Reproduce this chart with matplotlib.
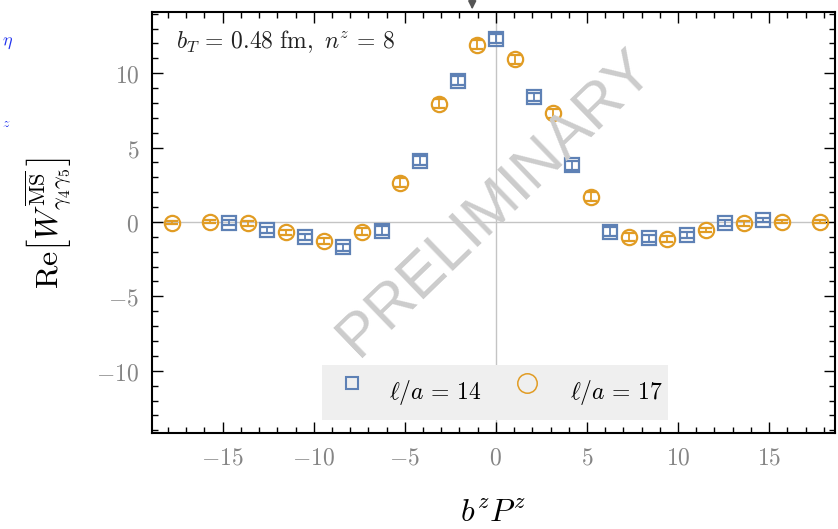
import matplotlib
matplotlib.use('Agg')
import matplotlib.pyplot as plt
from matplotlib.patches import Rectangle
from matplotlib.ticker import MultipleLocator, FuncFormatter


# l/a = 14 (blue squares)
x_14 = [-14.66, -12.57, -10.47, -8.38, -6.28, -4.19, -2.09, 0.0,
        2.09, 4.19, 6.28, 8.38, 10.47, 12.57, 14.66]
y_14 = [-0.05, -0.54, -1.0, -1.7, -0.6, 4.1, 9.5, 12.3,
        8.4, 3.8, -0.65, -1.1, -0.9, -0.1, 0.15]
err_14 = [0.15, 0.2, 0.2, 0.25, 0.3, 0.3, 0.3, 0.3,
          0.3, 0.3, 0.3, 0.25, 0.2, 0.2, 0.15]

# l/a = 17 (orange circles)
x_17 = [-17.80, -15.71, -13.61, -11.52, -9.42, -7.33, -5.24, -3.14, -1.05,
        1.05, 3.14, 5.24, 7.33, 9.42, 11.52, 13.61, 15.71, 17.80]
y_17 = [-0.05, 0.0, -0.1, -0.7, -1.3, -0.65, 2.65, 7.95, 11.9,
        10.95, 7.3, 1.7, -1.0, -1.15, -0.55, -0.1, 0.0, 0.0]
err_17 = [0.1, 0.1, 0.15, 0.15, 0.2, 0.25, 0.3, 0.3, 0.3,
          0.3, 0.3, 0.3, 0.25, 0.2, 0.15, 0.15, 0.1, 0.1]

labels = [r'$\ell/a\,=\,14$', r'$\ell/a\,=\,17$']
arrow_x = -1.3

BLUE = '#5E81B5'
ORANGE = '#E19C24'
GRAY = '#858585'

plt.rcParams['mathtext.fontset'] = 'cm'

fig = plt.figure(figsize=(8.38, 5.29), dpi=100)
ax = fig.add_axes([0.181, 0.181, 0.815, 0.796])

ax.axhline(0, color='#c4c4c4', lw=1.0, zorder=1)
ax.axvline(0, color='#c4c4c4', lw=1.0, zorder=1)

ax.errorbar(x_14, y_14, yerr=err_14, fmt='s', ms=9.5, mfc='none',
            mec=BLUE, mew=1.6, ecolor=BLUE, elinewidth=1.3, capsize=4,
            capthick=1.3, zorder=3)
ax.errorbar(x_17, y_17, yerr=err_17, fmt='o', ms=11, mfc='none',
            mec=ORANGE, mew=1.6, ecolor=ORANGE, elinewidth=1.3, capsize=4,
            capthick=1.3, zorder=3)

ax.set_xlim(-18.9, 18.6)
ax.set_ylim(-14.2, 14.1)

ax.xaxis.set_major_locator(MultipleLocator(5))
ax.xaxis.set_minor_locator(MultipleLocator(1))
ax.yaxis.set_major_locator(MultipleLocator(5))
ax.yaxis.set_minor_locator(MultipleLocator(1))
fmt = FuncFormatter(lambda v, p: '$%d$' % round(v))
ax.xaxis.set_major_formatter(fmt)
ax.yaxis.set_major_formatter(fmt)
ax.tick_params(which='both', direction='in', top=True, right=True,
               colors='black', labelcolor=GRAY, labelsize=17, width=1.0)
ax.tick_params(which='major', length=8, pad=9)
ax.tick_params(which='minor', length=4)
for s in ax.spines.values():
    s.set_linewidth(1.5)

ax.set_xlabel(r'$b^z P^z$', fontsize=23, labelpad=20)
ax.set_ylabel(r'$\mathrm{Re}\left[W^{\overline{\mathrm{MS}}}_{\gamma_4\gamma_5}\right]$',
              fontsize=23, labelpad=16)

ax.text(0.035, 0.93, r'$b_T\,=\,0.48\ \mathrm{fm},\ n^z\,=\,8$',
        transform=ax.transAxes, fontsize=17, color='#222222', va='center')

# legend box drawn by hand, Mathematica style
ax.add_patch(Rectangle((0.249, 0.031), 0.507, 0.131, transform=ax.transAxes,
                       facecolor='#efefef', edgecolor='none', zorder=4))
ax.plot([0.294], [0.119], 's', ms=8, mfc='none', mec=BLUE, mew=1.5,
        transform=ax.transAxes, zorder=5)
ax.plot([0.55], [0.119], 'o', ms=14, mfc='none', mec=ORANGE, mew=1.1,
        transform=ax.transAxes, zorder=5)
ax.text(0.348, 0.097, labels[0], transform=ax.transAxes, fontsize=17,
        va='center', zorder=5)
ax.text(0.612, 0.097, labels[1], transform=ax.transAxes, fontsize=17,
        va='center', zorder=5)

ax.text(0.504, 0.546, 'PRELIMINARY', fontsize=44, family='Liberation Sans',
        color='#cccccc', rotation=44, ha='center', va='center',
        transform=ax.transAxes, zorder=6)

ax.annotate('', xy=(arrow_x, 1.0), xycoords=('data', 'axes fraction'),
            xytext=(arrow_x, 1.035), textcoords=('data', 'axes fraction'),
            arrowprops=dict(arrowstyle='-|>', color='#555555', lw=1.2,
                            mutation_scale=12),
            annotation_clip=False)

# fragments at the left edge of the original picture
fig.text(0.002, 0.915, r'$\eta$', color='#2233ee', fontsize=13)
fig.text(0.002, 0.76, r'$z$', color='#2233ee', fontsize=10)

fig.savefig('out.png', dpi=100)
